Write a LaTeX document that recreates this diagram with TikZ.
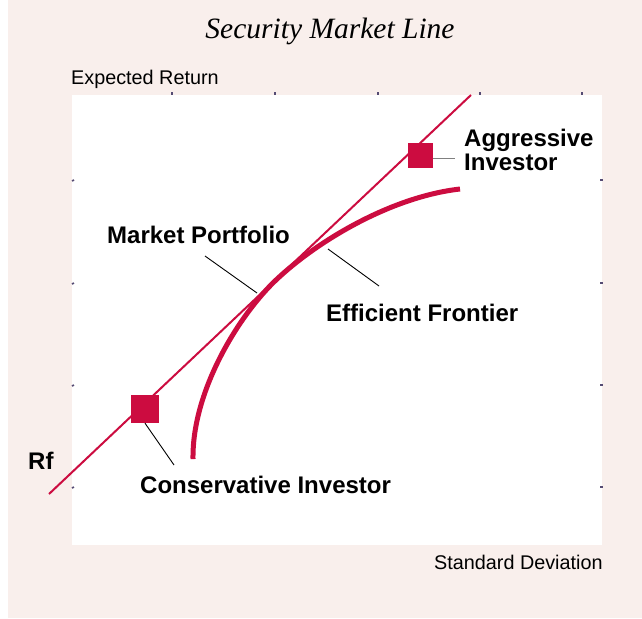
\documentclass[tikz,border=0pt]{standalone}
\usepackage{fontspec}
\setmainfont{Liberation Serif}
\setsansfont{Liberation Sans}
\usepackage{xcolor}
\usepackage{tikz}
\usetikzlibrary{positioning}

\definecolor{bgpink}{RGB}{249,239,236}
\definecolor{smlred}{RGB}{204,12,64}
\definecolor{tickgray}{RGB}{85,75,115}

\begin{document}
\begin{tikzpicture}[x=1pt, y=-1pt,
                          sml/.style={line width=2pt, smlred},
                          frontier/.style={line width=5pt, smlred},
                          investor/.style={fill=smlred, draw=none, minimum size=#1, inner sep=0pt},
                          leader/.style={line width=0.9pt, black},
                          tickmark/.style={line width=1.6pt, tickgray},
                          boldlbl/.style={font=\sffamily\bfseries\fontsize{24}{24}\selectfont, inner sep=0pt},
                          axlbl/.style={font=\sffamily\fontsize{19.8}{22}\selectfont, inner sep=0pt},
                         ]

\useasboundingbox (0,0) rectangle (642,618);
\fill[bgpink] (8,0) rectangle (642,618);
\fill[white] (72,95) rectangle (602,545);

% ticks
\foreach \x in {172,275,378,480,582}
  \draw[tickmark] (\x,92) -- (\x,95);
\foreach \y in {180,283,385,487}{
  \draw[tickmark] (600,\y) -- (603,\y);
  \draw[tickmark] (72,\y+1) -- (74,\y);
}

\node[font=\itshape\fontsize{29.5}{30}\selectfont] (title) at (330,31) {Security Market Line};
\node[axlbl, anchor=base west] (ylbl) at (71,84) {Expected Return};
\node[axlbl, anchor=base west] (xlbl) at (434,569) {Standard Deviation};

% security market line
\coordinate (rf) at (49,494);
\coordinate (smltop) at (471,95);
\draw[sml] (rf) -- (smltop);

% efficient frontier
\coordinate (fb) at (193,459);
\coordinate (mp) at (276,280);
\coordinate (fe) at (460,189);
\draw[frontier] (fb) .. controls (192,390) and (240,314) .. (mp)
                     .. controls (316,242) and (390,197) .. (fe);

\node[investor=28pt] (cons) at (145,409) {};
\node[investor=25pt] (aggr) at (420,155) {};

\node[boldlbl, anchor=base west] (rflbl) at (28,469) {Rf};
\node[boldlbl, anchor=base west] (conslbl) at (140,493) {Conservative Investor};
\node[boldlbl, anchor=base west] (mplbl) at (107,243) {Market Portfolio};
\node[boldlbl, anchor=base west] (eflbl) at (326,321) {Efficient Frontier};
\node[boldlbl, anchor=north west, align=left] (aggrlbl) at (464,129) {Aggressive\\Investor};

% leaders
\coordinate (consend) at (174,465);
\coordinate (aggrend) at (455,158);
\coordinate (mpA) at (205,256);
\coordinate (mpB) at (257,293);
\coordinate (efA) at (328,249);
\coordinate (efB) at (379,286);
\draw[leader] (cons.south) -- (consend);
\draw[leader, gray] (aggr.east |- aggrend) -- (aggrend);
\draw[leader] (mpA) -- (mpB);
\draw[leader] (efA) -- (efB);

\end{tikzpicture}
\end{document}
